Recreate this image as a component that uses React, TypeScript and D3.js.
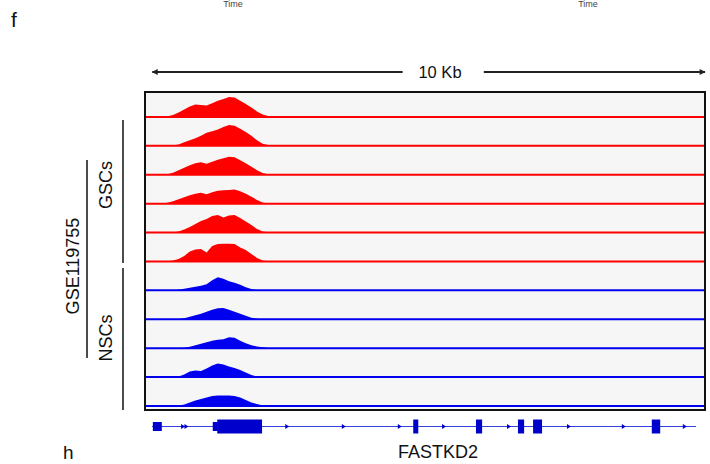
import React from 'react';
import * as d3 from 'd3';

// genomic window in kb (box spans 10 kb)
const regionKb: [number, number] = [0, 10];

// coverage bins start here, step 0.1 kb
const binStart = 0.3;
const binStep = 0.1;

const trackNames = ['GSC1', 'GSC2', 'GSC3', 'GSC4', 'GSC5', 'GSC6', 'NSC1', 'NSC2', 'NSC3', 'NSC4', 'NSC5'];
const trackGroup = ['GSCs', 'GSCs', 'GSCs', 'GSCs', 'GSCs', 'GSCs', 'NSCs', 'NSCs', 'NSCs', 'NSCs', 'NSCs'];

// coverage values, bins 0.3 .. 2.3 kb
const coverage: number[][] = [
  [1, 3, 8, 18, 30, 42, 50, 48, 46, 55, 65, 72, 80, 78, 65, 52, 38, 22, 10, 4, 1],
  [0, 0, 1, 5, 14, 22, 30, 40, 52, 58, 65, 75, 83, 80, 68, 55, 40, 22, 8, 3, 1],
  [0, 2, 8, 18, 28, 38, 46, 50, 44, 52, 60, 66, 72, 70, 58, 46, 32, 18, 7, 2, 0],
  [1, 4, 10, 18, 26, 34, 40, 44, 38, 46, 52, 54, 55, 57, 50, 40, 28, 15, 5, 1, 0],
  [0, 0, 1, 4, 12, 22, 34, 46, 54, 66, 70, 60, 68, 70, 58, 44, 30, 14, 4, 1, 0],
  [0, 1, 4, 10, 22, 40, 48, 50, 36, 62, 70, 71, 71, 70, 56, 46, 30, 14, 4, 1, 0],
  [0, 0, 0, 2, 6, 10, 14, 18, 24, 40, 52, 46, 36, 30, 22, 12, 5, 1, 0, 0, 0],
  [0, 0, 0, 1, 4, 10, 16, 22, 30, 38, 44, 45, 38, 30, 22, 14, 6, 2, 0, 0, 0],
  [0, 0, 0, 0, 2, 6, 12, 18, 24, 30, 34, 36, 44, 42, 30, 20, 12, 7, 4, 1, 0],
  [0, 0, 0, 2, 10, 22, 26, 24, 34, 46, 54, 50, 42, 36, 28, 18, 8, 2, 0, 0, 0],
  [0, 0, 0, 1, 6, 14, 22, 28, 34, 40, 42, 42, 42, 40, 34, 24, 14, 8, 2, 0, 0],
];

const groupColor: Record<string, string> = { GSCs: '#ff0000', NSCs: '#0000ee' };

// FASTKD2 gene model (kb)
const geneSpan: [number, number] = [0.125, 9.84];
const utrs: [number, number][] = [[0.14, 0.3], [1.21, 1.3]];
const exons: [number, number][] = [[1.29, 2.09], [4.79, 4.88], [5.91, 6.02], [6.66, 6.77], [6.93, 7.09], [9.05, 9.2]];
const chevrons = [0.68, 0.74, 2.54, 3.55, 4.55, 5.34, 6.5, 7.57, 8.55, 9.64];

const W = 710;
const H = 464;
const box = { x0: 145, x1: 705, y0: 92, y1: 410 };

export default function App() {
  const x = d3.scaleLinear().domain(regionKb).range([box.x0, box.x1]);
  const band = d3.scaleBand<string>().domain(trackNames).range([box.y0, box.y1]).padding(0);
  const yv = d3.scaleLinear().domain([0, 100]).range([0, 25]);

  const geneY = 426.5;
  const blue = '#0000cc';

  return (
    <svg width={W} height={H} style={{ position: 'absolute', left: 0, top: 0, fontFamily: 'Liberation Sans, Arial, sans-serif' }}>
      <defs>
        <marker id="ah" viewBox="0 0 10 10" refX="9" refY="5" markerWidth="9" markerHeight="6" orient="auto-start-reverse" markerUnits="userSpaceOnUse">
          <path d="M0,0 L10,5 L0,10 z" fill="#222" />
        </marker>
      </defs>
      <rect width={W} height={H} fill="#fff" />

      <text x={233} y={7} fontSize={9} textAnchor="middle" fill="#444">Time</text>
      <text x={588} y={7} fontSize={9} textAnchor="middle" fill="#444">Time</text>
      <text x={11} y={27} fontSize={21} fill="#111">f</text>
      <text x={63} y={459} fontSize={19} fill="#111">h</text>

      {/* scale arrow */}
      <line x1={x(0.13)} x2={x(4.6)} y1={72} y2={72} stroke="#222" strokeWidth={2} markerStart="url(#ah)" />
      <line x1={x(6.05)} x2={x(10)} y1={72} y2={72} stroke="#222" strokeWidth={2} markerEnd="url(#ah)" />
      <text x={440} y={78} fontSize={16.5} textAnchor="middle" fill="#111">10 Kb</text>

      {/* track box */}
      <rect x={box.x0} y={box.y0} width={box.x1 - box.x0} height={box.y1 - box.y0} fill="#f6f6f6" />
      {trackNames.map((t, i) => {
        const base = (band(t) as number) + band.bandwidth() - 4;
        const col = groupColor[trackGroup[i]];
        const pts = coverage[i].map((v, j) => [binStart + j * binStep, v] as [number, number]);
        const area = d3.area<[number, number]>()
          .x(d => x(d[0]))
          .y0(base)
          .y1(d => base - yv(d[1]))
          .curve(d3.curveLinear);
        return (
          <g key={t}>
            <path d={area(pts) || ''} fill={col} />
            <line x1={box.x0} x2={box.x1} y1={base} y2={base} stroke={col} strokeWidth={2} />
          </g>
        );
      })}
      <rect x={box.x0} y={box.y0} width={box.x1 - box.x0} height={box.y1 - box.y0} fill="none" stroke="#111" strokeWidth={2} />

      {/* group labels */}
      <line x1={87} x2={87} y1={160} y2={358} stroke="#111" strokeWidth={1.5} />
      <text transform="translate(79,266) rotate(-90)" fontSize={18} textAnchor="middle" fill="#111">GSE119755</text>
      <line x1={123} x2={123} y1={120} y2={263} stroke="#111" strokeWidth={1.5} />
      <line x1={123} x2={123} y1={268} y2={410} stroke="#111" strokeWidth={1.5} />
      <text transform="translate(112,185) rotate(-90)" fontSize={18} textAnchor="middle" fill="#111">GSCs</text>
      <text transform="translate(112,338) rotate(-90)" fontSize={18} textAnchor="middle" fill="#111">NSCs</text>

      {/* gene model */}
      <line x1={x(geneSpan[0])} x2={x(geneSpan[1])} y1={geneY} y2={geneY} stroke="#3344dd" strokeWidth={1.2} />
      {chevrons.map((c, i) => (
        <path key={i} d={`M${x(c) - 2},${geneY - 2.5} L${x(c) + 2},${geneY} L${x(c) - 2},${geneY + 2.5} z`} fill={blue} />
      ))}
      {utrs.map((u, i) => (
        <rect key={i} x={x(u[0])} y={geneY - 4.5} width={x(u[1]) - x(u[0])} height={9} fill={blue} />
      ))}
      {exons.map((e, i) => (
        <rect key={i} x={x(e[0])} y={geneY - 7} width={x(e[1]) - x(e[0])} height={14} fill={blue} />
      ))}
      <text x={438} y={458} fontSize={18} textAnchor="middle" fill="#111">FASTKD2</text>
    </svg>
  );
}
